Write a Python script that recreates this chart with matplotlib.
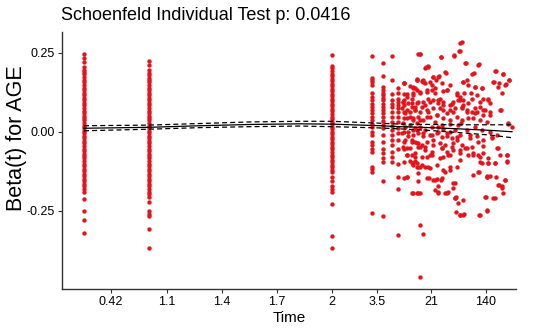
import matplotlib

matplotlib.use("Agg")
import matplotlib.pyplot as plt

# transformed time (rank scale) for the tick marks and their labels
tick_ranks = [49, 105, 160, 215, 270, 315, 369, 424]
tick_labels = ["0.42", "1.1", "1.4", "1.7", "2", "3.5", "21", "140"]

# tied event times: residuals stacked at the same rank
tie_ranks = [22, 87, 270, 310, 321, 330, 336, 342]
tie_betas = [
    [0.245, 0.232, 0.219, 0.205, 0.196, 0.188, 0.181, 0.172, 0.164, 0.156, 0.147,
     0.139, 0.132, 0.123, 0.115, 0.108, 0.099, 0.091, 0.084, 0.075, 0.067, 0.060,
     0.051, 0.043, 0.036, 0.027, 0.019, 0.012, 0.003, -0.005, -0.012, -0.021,
     -0.029, -0.036, -0.045, -0.053, -0.060, -0.069, -0.077, -0.084, -0.093,
     -0.101, -0.108, -0.117, -0.125, -0.132, -0.141, -0.149, -0.156, -0.165,
     -0.173, -0.181, -0.189, -0.213, -0.250, -0.279, -0.319],
    [0.224, 0.210, 0.195, 0.187, 0.180, 0.171, 0.163, 0.156, 0.147, 0.139, 0.132,
     0.123, 0.115, 0.108, 0.099, 0.091, 0.084, 0.075, 0.067, 0.060, 0.051, 0.043,
     0.036, 0.027, 0.019, 0.012, 0.003, -0.005, -0.012, -0.021, -0.029, -0.036,
     -0.045, -0.053, -0.060, -0.069, -0.077, -0.084, -0.093, -0.101, -0.108,
     -0.117, -0.125, -0.132, -0.141, -0.149, -0.156, -0.165, -0.173, -0.181,
     -0.189, -0.197, -0.205, -0.223, -0.252, -0.260, -0.266, -0.307, -0.368],
    [0.244, 0.207, 0.200, 0.192, 0.184, 0.176, 0.168, 0.160, 0.152, 0.144, 0.136,
     0.128, 0.120, 0.112, 0.104, 0.096, 0.088, 0.080, 0.072, 0.064, 0.056, 0.048,
     0.040, 0.032, 0.024, 0.016, 0.008, 0.000, -0.008, -0.016, -0.024, -0.032,
     -0.040, -0.048, -0.056, -0.064, -0.072, -0.080, -0.088, -0.096, -0.104,
     -0.112, -0.121, -0.128, -0.142, -0.155, -0.173, -0.181, -0.192, -0.229,
     -0.331, -0.368],
    [0.239, 0.170, 0.163, 0.156, 0.147, 0.121, 0.110, 0.100, 0.089, 0.079, 0.068,
     0.058, 0.047, 0.037, 0.026, 0.016, 0.000, -0.010, -0.031, -0.042, -0.053,
     -0.063, -0.110, -0.118, -0.126, -0.258],
    [0.218, 0.177, 0.140, 0.132, 0.124, 0.116, 0.108, 0.100, 0.089, 0.079, 0.068,
     0.058, 0.047, 0.034, 0.021, 0.011, -0.010, -0.031, -0.053, -0.068, -0.084,
     -0.095, -0.155, -0.266],
    [0.240, 0.165, 0.119, 0.100, 0.089, 0.079, 0.063, 0.047, 0.032, 0.019, 0.005,
     -0.010, -0.026, -0.042, -0.063, -0.079, -0.097],
    [0.137, 0.124, 0.105, 0.095, 0.084, 0.074, 0.063, 0.047, 0.032, 0.011, -0.005,
     -0.026, -0.053, -0.103, -0.142, -0.182, -0.326],
    [0.153, 0.118, 0.100, 0.084, 0.063, 0.042, 0.000, -0.031, -0.053, -0.095,
     -0.147],
]

# untied residuals at later times
cloud_rank = [
    398, 397, 358, 379, 392, 404, 417, 364, 366, 384, 377, 371, 355, 361, 363, 360,
    342, 368, 374, 410, 412, 434, 441, 447, 444, 432, 437, 401, 405, 420, 413, 440,
    426, 351, 355, 345, 351, 358, 365, 370, 373, 381, 385, 395, 398, 402, 409, 415,
    421, 428, 438, 341, 346, 350, 355, 361, 366, 371, 378, 376, 381, 388, 391, 396,
    401, 406, 413, 418, 423, 428, 421, 415, 410, 405, 400, 393, 388, 385, 378, 371,
    365, 358, 353, 348, 343, 340, 345, 351, 356, 361, 368, 375, 381, 388, 395, 400,
    406, 411, 418, 425, 399, 405, 413, 420, 428, 435, 446, 450, 341, 348, 353, 358,
    363, 370, 376, 381, 388, 393, 398, 408, 415, 421, 430, 340, 346, 351, 356, 361,
    368, 375, 380, 385, 390, 395, 343, 350, 355, 360, 365, 371, 378, 383, 391, 400,
    405, 410, 421, 435, 341, 348, 358, 363, 370, 380, 385, 391, 398, 406, 411, 416,
    345, 353, 365, 370, 381, 386, 418, 426, 438, 445, 348, 355, 360, 366, 375, 388,
    398, 420, 426, 433, 445, 351, 356, 363, 383, 388, 411, 417, 425, 345, 356, 367,
    371, 375, 379, 425, 428, 434, 443, 393, 391, 376, 373, 383, 386, 437, 440, 376,
    358, 350, 394, 393, 401, 424, 433, 441, 396, 394, 398, 402, 417, 425, 358, 361,
    358,
    342, 348, 353, 355, 356, 351, 345, 341, 350, 353, 345, 348, 355, 343, 351, 346,
    353, 356, 345, 350, 353, 355, 345, 351, 356, 345, 350,
]
cloud_beta = [
    0.282, 0.256, 0.245, 0.237, 0.241, 0.217, 0.213, 0.205, 0.208, 0.187, 0.177,
    0.174, 0.165, 0.163, 0.153, 0.161, 0.153, 0.158, 0.165, 0.184, 0.186, 0.191,
    0.184, 0.163, 0.151, 0.158, 0.153, 0.156, 0.163, 0.137, 0.142, 0.124, 0.103,
    0.142, 0.132, 0.118, 0.116, 0.121, 0.126, 0.132, 0.137, 0.129, 0.132, 0.121,
    0.111, 0.124, 0.121, 0.116, 0.105, 0.090, 0.069, 0.095, 0.090, 0.079, 0.090,
    0.095, 0.105, 0.100, 0.105, 0.090, 0.095, 0.084, 0.095, 0.100, 0.084, 0.090,
    0.074, 0.079, 0.069, 0.063, 0.053, 0.063, 0.063, 0.069, 0.079, 0.074, 0.069,
    0.058, 0.074, 0.074, 0.069, 0.063, 0.069, 0.063, 0.058, 0.074, 0.042, 0.037,
    0.048, 0.037, 0.048, 0.053, 0.042, 0.037, 0.048, 0.037, 0.042, 0.045, 0.037,
    0.032, 0.027, 0.006, 0.014, 0.006, 0.000, -0.010, 0.027, 0.016, 0.027, 0.021,
    0.011, 0.016, 0.006, 0.014, 0.016, 0.008, 0.000, 0.006, -0.010, -0.021,
    -0.015, -0.026, -0.021, -0.005, 0.000, -0.010, -0.005, -0.015, -0.010,
    -0.005, -0.018, -0.015, -0.021, -0.026, -0.026, -0.031, -0.037, -0.042,
    -0.031, -0.026, -0.037, -0.042, -0.037, -0.042, -0.052, -0.047, -0.045,
    -0.052, -0.047, -0.052, -0.047, -0.058, -0.063, -0.052, -0.063, -0.058,
    -0.068, -0.073, -0.068, -0.073, -0.073, -0.079, -0.079, -0.073, -0.079,
    -0.073, -0.079, -0.084, -0.073, -0.073, -0.094, -0.100, -0.105, -0.110,
    -0.105, -0.110, -0.089, -0.098, -0.098, -0.100, -0.094, -0.105, -0.110,
    -0.110, -0.126, -0.121, -0.136, -0.126, -0.142, -0.142, -0.157, -0.147,
    -0.152, -0.150, -0.152, -0.139, -0.140, -0.142, -0.152, -0.163, -0.178,
    -0.173, -0.184, -0.194, -0.192, -0.168, -0.173, -0.194, -0.194, -0.194,
    -0.205, -0.210, -0.215, -0.205, -0.210, -0.194, -0.226, -0.255, -0.263,
    -0.259, -0.263, -0.250, -0.296, -0.324, -0.459,
    0.153, 0.144, 0.137, 0.163, 0.247, 0.121, 0.111, 0.095, 0.090, 0.079, 0.069,
    0.048, 0.027, 0.016, 0.006, -0.015, -0.031, -0.047, -0.052, -0.073, -0.094,
    -0.110, -0.142, -0.194, -0.194, -0.074, -0.100,
]

# more untied residuals read from the dense middle and right of the cloud
late_rank = [
    358, 379, 392, 398, 400, 363, 366, 383, 355, 361, 371, 376, 370, 380, 388, 401,
    351, 358, 365, 373, 385, 395, 350, 356, 363, 368, 376, 381, 390, 398, 353, 360,
    366, 375, 381, 391, 400, 351, 358, 365, 373, 380, 388, 396, 355, 361, 370, 376,
    385, 395, 350, 356, 363, 371, 380, 390, 398, 353, 360, 368, 378, 388, 351, 358,
    368, 381, 395, 356, 365, 373, 380, 391, 355, 376, 385, 393, 398,
    403, 416, 433, 441, 447, 406, 413, 420, 431, 436, 443, 401, 410, 418, 426, 439,
    405, 413, 421, 428, 446, 408, 416, 430, 436, 403, 411, 421, 445, 418, 426, 433,
    445, 416, 425, 443, 436, 440, 423, 431, 401, 418, 425,
]
late_beta = [
    0.245, 0.235, 0.240, 0.256, 0.284, 0.200, 0.205, 0.189, 0.168, 0.158, 0.174,
    0.174, 0.147, 0.153, 0.147, 0.158, 0.137, 0.126, 0.132, 0.121, 0.132, 0.116,
    0.105, 0.095, 0.084, 0.095, 0.100, 0.084, 0.089, 0.100, 0.068, 0.079, 0.063,
    0.053, 0.068, 0.063, 0.074, 0.042, 0.037, 0.047, 0.032, 0.021, 0.026, 0.021,
    0.005, -0.005, -0.010, 0.000, -0.005, -0.016, -0.026, -0.037, -0.047, -0.042,
    -0.052, -0.047, -0.058, -0.068, -0.079, -0.074, -0.084, -0.074, -0.100,
    -0.110, -0.116, -0.121, -0.110, -0.131, -0.147, -0.152, -0.147, -0.163,
    -0.194, -0.189, -0.194, -0.210, -0.263,
    0.216, 0.210, 0.191, 0.184, 0.163, 0.147, 0.142, 0.137, 0.158, 0.142, 0.147,
    0.100, 0.105, 0.095, 0.100, 0.068, 0.063, 0.058, 0.068, 0.053, 0.026, -0.010,
    -0.031, -0.016, -0.052, -0.052, -0.074, -0.068, -0.074, -0.095, -0.100,
    -0.100, -0.095, -0.126, -0.142, -0.152, -0.168, -0.179, -0.205, -0.210,
    -0.263, -0.263, -0.247,
]

# smoothed beta(t) with its confidence band
fit_rank = [22, 87, 138, 188, 238, 270, 318, 338, 368, 398, 430, 450]
fit_beta = [0.011, 0.014, 0.019, 0.023, 0.025, 0.024, 0.019, 0.016, 0.013,
            0.009, 0.004, 0.000]
fit_upper = [0.019, 0.021, 0.026, 0.031, 0.033, 0.033, 0.027, 0.024, 0.023,
             0.022, 0.022, 0.022]
fit_lower = [0.003, 0.008, 0.013, 0.016, 0.018, 0.016, 0.012, 0.009, 0.004,
             -0.003, -0.011, -0.019]


def main():
    plt.rcParams["font.family"] = ["Liberation Sans", "DejaVu Sans"]

    fig = plt.figure(figsize=(5.4, 3.34), dpi=100)
    ax = fig.add_axes([0.1148, 0.1347, 0.8408, 0.7693])

    point_color = "#E3141B"
    for rank, betas in zip(tie_ranks, tie_betas):
        ax.scatter([rank] * len(betas), betas, s=10, color=point_color,
                   linewidths=0, zorder=2)
    ax.scatter(cloud_rank, cloud_beta, s=10, color=point_color,
               linewidths=0, zorder=2)
    ax.scatter(late_rank, late_beta, s=10, color=point_color,
               linewidths=0, zorder=2)

    ax.plot(fit_rank, fit_beta, color="black", linewidth=0.9, zorder=3)
    ax.plot(fit_rank, fit_upper, color="black", linewidth=0.9,
            linestyle=(0, (4, 2.5)), zorder=3)
    ax.plot(fit_rank, fit_lower, color="black", linewidth=0.9,
            linestyle=(0, (4, 2.5)), zorder=3)

    ax.set_xlim(0, 454)
    ax.set_ylim(-0.497, 0.315)
    ax.set_xticks(tick_ranks)
    ax.set_xticklabels(tick_labels)
    ax.set_yticks([-0.25, 0.0, 0.25])
    ax.set_yticklabels(["-0.25", "0.00", "0.25"])

    for side in ("top", "right"):
        ax.spines[side].set_visible(False)
    for side in ("left", "bottom"):
        ax.spines[side].set_linewidth(1.0)
        ax.spines[side].set_color("#333333")
    ax.tick_params(direction="out", length=3, width=0.8, color="#333333",
                   labelsize=9, labelcolor="black", pad=2)

    ax.set_xlabel("Time", fontsize=11, labelpad=2)
    fig.text(0.031, 0.587, "Beta(t) for AGE", rotation=90, fontsize=15.5,
             ha="center", va="center")
    fig.text(0.113, 0.955, "Schoenfeld Individual Test p: 0.0416", fontsize=13,
             ha="left", va="center")

    fig.savefig("out.png", dpi=100)


if __name__ == "__main__":
    main()
